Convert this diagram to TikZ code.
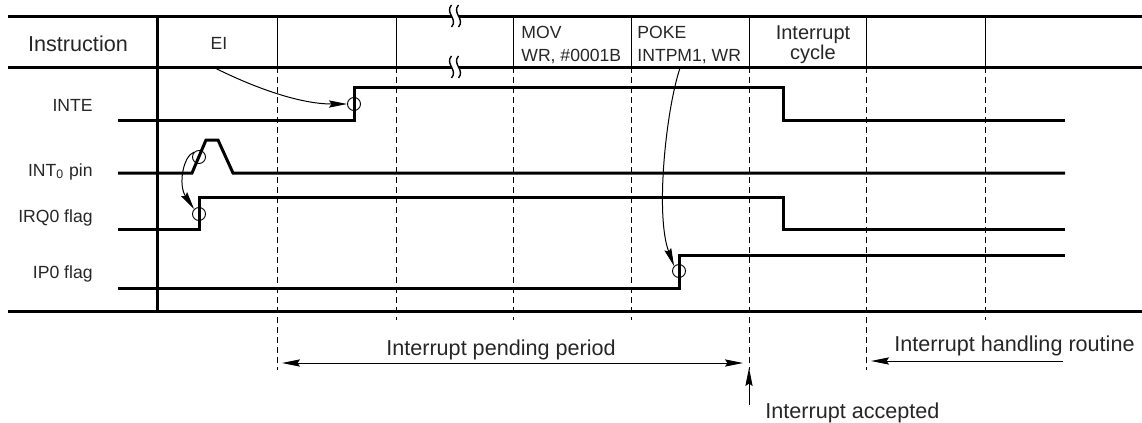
\documentclass[tikz,border=0pt]{standalone}
\usepackage{fontspec}
\setmainfont{Liberation Sans}
\usepackage{tikz}
\usetikzlibrary{arrows.meta}

\begin{document}
\begin{tikzpicture}[
    x=0.5pt,
    y=-0.5pt,
    frame/.style={
        line width=1.5pt
    },
    signal/.style={
        line width=1.5pt,
        line join=miter
    },
    cell/.style={
        line width=0.5pt
    },
    tick/.style={
        line width=0.5pt,
        dash pattern=on 3pt off 2pt
    },
    ring/.style={
        circle,
        draw,
        line width=0.45pt,
        minimum size=6.5pt,
        inner sep=0pt
    },
    big/.style={
        font=\fontsize{10.8}{13}\selectfont,
        inner sep=0pt,
        text=black!85
    },
    small/.style={
        font=\fontsize{8.8}{11.7}\selectfont,
        inner sep=0pt,
        text=black!85,
        align=left
    },
    arrow/.style={
        -{Stealth[length=9pt,width=3.6pt,inset=1.2pt]},
        line width=0.5pt
    },
    dblarrow/.style={
        {Stealth[length=9pt,width=3.6pt,inset=1.2pt]}-{Stealth[length=9pt,width=3.6pt,inset=1.2pt]},
        line width=0.5pt
    },
    brk/.pic={
        \fill[white] (-3.5,-11) .. controls (-10.5,-3) and (3.5,3) .. (-3.5,11)
            -- (3.5,11) .. controls (10.5,3) and (-3.5,-3) .. (3.5,-11) -- cycle;
        \draw[line width=0.7pt] (-3.5,-11) .. controls (-10.5,-3) and (3.5,3) .. (-3.5,11);
        \draw[line width=0.7pt] (3.5,-11) .. controls (-3.5,-3) and (10.5,3) .. (3.5,11);
    }
]

\useasboundingbox (0,0) rectangle (1142,423);

% ---------------- GRID ----------------

\foreach \x/\e in {277/370,396/320,513/320,631/320,749/370,866/370,985/320} {
    \draw[cell] (\x,16) -- (\x,67);
    \draw[tick] (\x,67) -- (\x,\e);
}

\draw[frame] (8,16) -- (1142,16);
\draw[frame] (8,67) -- (1142,67);
\draw[frame] (8,311) -- (1142,311);
\draw[frame] (157,16) -- (157,311);

\pic at (455,16) {brk};
\pic at (455,67) {brk};

% ---------------- HEADER ----------------

\node[big, anchor=base] (instr) at (78,52)
    {Instruction};

\node[small, anchor=base] (ei) at (219,49)
    {EI};

\node[small, anchor=north west] (mov) at (521,25.5)
    {MOV\\WR, \#0001B};

\node[small, anchor=north west] (poke) at (637,25.5)
    {POKE\\INTPM1, WR};

\node[big, anchor=north, align=center, font=\fontsize{10}{10}\selectfont] (icycle) at (813,25)
    {Interrupt\\cycle};

% ---------------- SIGNALS ----------------

\node[small, anchor=base east] (inte) at (93,111)
    {INTE};

\node[small, anchor=base east] (int0) at (93,176)
    {INT\textsubscript{0} pin};

\node[small, anchor=base east] (irq0) at (93,222)
    {IRQ0 flag};

\node[small, anchor=base east] (ip0) at (93,278)
    {IP0 flag};

\draw[signal] (118,120) -- (354,120) -- (354,87) -- (783,87) -- (783,120) -- (1065,120);
\draw[signal] (118,173) -- (192,173) -- (206,140) -- (218,140) -- (233,173) -- (1065,173);
\draw[signal] (118,229) -- (199,229) -- (199,197) -- (783,197) -- (783,229) -- (1065,229);
\draw[signal] (118,288) -- (679,288) -- (679,255) -- (1065,255);

\node[ring] (r-inte) at (354,104) {};
\node[ring] (r-int0) at (199,157) {};
\node[ring] (r-irq0) at (199,214) {};
\node[ring] (r-ip0) at (679,271) {};

\coordinate (ei-src) at (215,68);
\coordinate (poke-src) at (680,68);

\draw[arrow] (ei-src) .. controls (255,88) and (300,104) .. (r-inte.west);
\draw[arrow] (r-int0.north west) .. controls (183,156) and (178,185) .. (r-irq0.north west);
\draw[arrow] (poke-src) .. controls (666,110) and (655,215) .. (r-ip0.north west);

% ---------------- PERIODS ----------------

\coordinate (pend-l) at (282,363);
\coordinate (pend-r) at (743,363);
\coordinate (acc-foot) at (749,405);
\coordinate (acc-tip) at (749,368);
\coordinate (hnd-foot) at (1063,361);
\coordinate (hnd-tip) at (871,361);

\node[big, anchor=base] (pend) at (501,355)
    {Interrupt pending period};

\node[big, anchor=base west] (acc) at (765,418)
    {Interrupt accepted};

\node[big, anchor=base east] (hnd) at (1135,351)
    {Interrupt handling routine};

\draw[dblarrow] (pend-l) -- (pend-r);
\draw[arrow] (acc-foot) -- (acc-tip);
\draw[arrow] (hnd-foot) -- (hnd-tip);

\end{tikzpicture}
\end{document}
